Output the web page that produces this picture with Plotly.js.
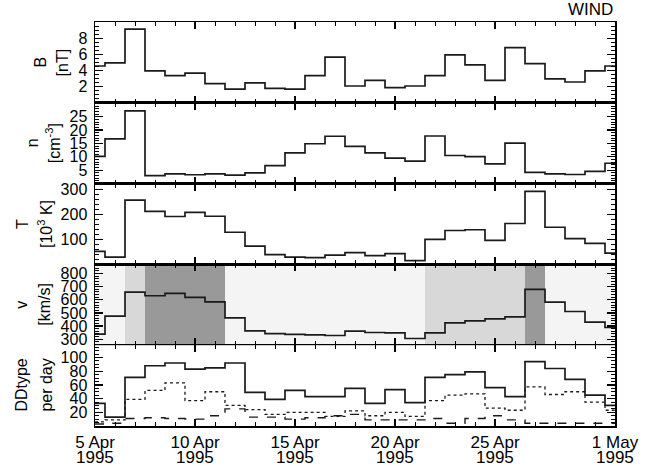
<!DOCTYPE html>
<html>
<head>
<meta charset="utf-8">
<script src="https://cdn.plot.ly/plotly-3.0.1.min.js"></script>
<style>html,body{margin:0;padding:0;background:#fff;}#chart{width:656px;height:466px;}</style>
</head>
<body>
<div id="chart"></div>
<script>
// Days since 5 Apr 1995 00:00 (daily values, drawn as centred steps)
const days = [0,1,2,3,4,5,6,7,8,9,10,11,12,13,14,15,16,17,18,19,20,21,22,23,24,25,26];

const B_nT = [4.6,5.0,9.2,4.0,3.4,3.7,2.4,1.7,2.5,1.8,1.7,3.4,5.7,2.1,2.8,1.9,2.1,3.4,6.0,4.75,2.8,6.9,4.9,3.0,2.6,4.0,4.6];
const n_cm3 = [10.2,16.7,27.2,3.0,3.6,3.3,3.6,3.2,4.0,6.7,11.5,14.9,17.7,13.9,11.5,9.5,8.4,17.8,10.5,10.1,7.4,15.1,4.2,3.6,3.4,4.6,7.6];
const T_kK = [52,29,258,213,192,209,193,129,73,39,29,27,37,47,35,43,15,100,136,139,96,164,293,149,103,84,45];
const v_kms = [338,476,659,631,649,618,585,463,363,343,336,333,328,361,351,348,305,348,424,440,455,470,679,582,511,430,389];
const DD_total = [33,13,71,88,92,83,85,92,49,39,52,43,43,55,33,53,34,71,75,79,56,43,94,84,68,45,30];
const DD_dotted = [6,9,39,52,63,37,50,30,24,17,20,20,14,22,15,20,14,37,45,47,26,23,57,46,50,35,23];
const DD_dashed = [3,4,11,12,11,10,15,25,13,13,10,12,15,17,9,9,9,11,4,11,15,9,4,4,4,4,4];

// Shaded intervals (in days since 5 Apr 1995)
const bandsLight = [[1.5,2.5],[16.5,21.5]];
const bandsDark = [[2.5,6.5],[21.5,22.5]];

const xTickDays = [0,5,10,15,20,26];
const xTickText = ["5 Apr","10 Apr","15 Apr","20 Apr","25 Apr","1 May"];
const xTickYear = ["1995","1995","1995","1995","1995","1995"];

const yTitleLine1 = ["B","n","T","v","DDtype"];
const yTitleLine2 = ["[nT]","[cm<sup>-3</sup>]","[10<sup>3</sup> K]","[km/s]","per day"];
const yRanges = [[0,10.1],[0,30.2],[0,324],[254,870],[0,118]];
const yTickVals = [[2,4,6,8],[5,10,15,20,25],[100,200,300],[300,400,500,600,700,800],[20,40,60,80,100]];
const yMinor = [0.5,1,20,20,5];

const FONT = "Liberation Sans, Arial, sans-serif";
const lineCol = "#1a1a1a";
const L = 95, R = 41, T = 22, Bm = 40, W = 656, H = 466;
const plotW = W - L - R;
// horizontal pixel positions of the two title lines for each panel
const titlePx1 = [40, 32, 22, 22, 22];
const titlePx2 = [62, 53, 45, 45, 47];

const traces = [];
function stepTrace(y, idx, dash, width) {
  const s = idx === 0 ? "" : String(idx + 1);
  return {x: days, y: y, type: "scatter", mode: "lines",
    line: {shape: "hvh", color: lineCol, width: width || 1.7, dash: dash || "solid"},
    xaxis: "x" + s, yaxis: "y" + s, hoverinfo: "skip", showlegend: false};
}
traces.push(stepTrace(B_nT, 0));
traces.push(stepTrace(n_cm3, 1));
traces.push(stepTrace(T_kK, 2));
traces.push(stepTrace(v_kms, 3));
traces.push(stepTrace(DD_dashed, 4, "dash", 1.4));
traces.push(stepTrace(DD_dotted, 4, "dot", 1.3));
traces.push(stepTrace(DD_total, 4));

const layout = {
  width: W, height: H,
  margin: {l: L, r: R, t: T, b: Bm},
  paper_bgcolor: "#ffffff",
  plot_bgcolor: "#ffffff",
  font: {family: FONT, color: "#000", size: 14},
  showlegend: false,
  shapes: [],
  annotations: [{text: "WIND", xref: "paper", yref: "paper", x: 1, y: 1, xanchor: "right", yanchor: "bottom",
    yshift: 1, showarrow: false, font: {family: FONT, size: 17, color: "#000"}}]
};

for (let i = 0; i < 5; i++) {
  const s = i === 0 ? "" : String(i + 1);
  const top = 1 - i * 0.2, bot = top - 0.2;
  const isBottom = i === 4;
  layout["xaxis" + s] = {
    domain: [0, 1], anchor: "y" + s, range: [0, 26],
    showline: true, linecolor: "#000", linewidth: 1.5, mirror: "ticks",
    ticks: "inside", ticklen: 7, tickwidth: 1.2, tickcolor: "#000",
    tickvals: xTickDays, ticktext: xTickText,
    showticklabels: isBottom, tickfont: {size: 17, family: FONT},
    ticklabelstandoff: 0,
    showgrid: false, zeroline: false,
    minor: {dtick: 1, tick0: 0, ticks: "inside", ticklen: 4, tickwidth: 1, tickcolor: "#000", showgrid: false}
  };
  if (i > 0) layout["xaxis" + s].matches = "x";
  layout["yaxis" + s] = {
    domain: [Math.max(bot, 0), Math.min(top, 1)], anchor: "x" + s, range: yRanges[i],
    showline: true, linecolor: "#000", linewidth: 1.5, mirror: "ticks",
    ticks: "inside", ticklen: 8, tickwidth: 1.2, tickcolor: "#000",
    tickvals: yTickVals[i], tickfont: {size: 16, family: FONT},
    ticklabelstandoff: 3,
    showgrid: false, zeroline: false,
    minor: {dtick: yMinor[i], ticks: "inside", ticklen: 4, tickwidth: 1, tickcolor: "#000", showgrid: false}
  };
  const ymid = (Math.max(bot, 0) + Math.min(top, 1)) / 2;
  layout.annotations.push({text: yTitleLine1[i], xref: "paper", yref: "paper",
    x: (titlePx1[i] - L) / plotW, y: ymid, xanchor: "center", yanchor: "middle",
    textangle: -90, showarrow: false, font: {family: FONT, size: 16}});
  layout.annotations.push({text: yTitleLine2[i], xref: "paper", yref: "paper",
    x: (titlePx2[i] - L) / plotW, y: ymid, xanchor: "center", yanchor: "middle",
    textangle: -90, showarrow: false, font: {family: FONT, size: 16}});
}

// second line of the date labels
xTickDays.forEach(function (d, k) {
  layout.annotations.push({text: xTickYear[k], xref: "x5", yref: "paper", x: d, y: 0,
    xanchor: "center", yanchor: "middle", yshift: -31, showarrow: false,
    font: {family: FONT, size: 17}});
});

// Background and shaded bands for the v and DDtype panels
[4, 5].forEach(function (k) {
  const xr = "x" + k, yr = "y" + k + " domain";
  layout.shapes.push({type: "rect", xref: xr, yref: yr, x0: 0, x1: 26, y0: 0, y1: 1,
    fillcolor: "#f4f4f4", line: {width: 0}, layer: "below"});
  bandsLight.forEach(function (b) {
    layout.shapes.push({type: "rect", xref: xr, yref: yr, x0: b[0], x1: b[1], y0: 0, y1: 1,
      fillcolor: "#d8d8d8", line: {width: 0}, layer: "below"});
  });
  bandsDark.forEach(function (b) {
    layout.shapes.push({type: "rect", xref: xr, yref: yr, x0: b[0], x1: b[1], y0: 0, y1: 1,
      fillcolor: "#999999", line: {width: 0}, layer: "below"});
  });
});

Plotly.newPlot("chart", traces, layout, {displayModeBar: false, staticPlot: true});
</script>
</body>
</html>
